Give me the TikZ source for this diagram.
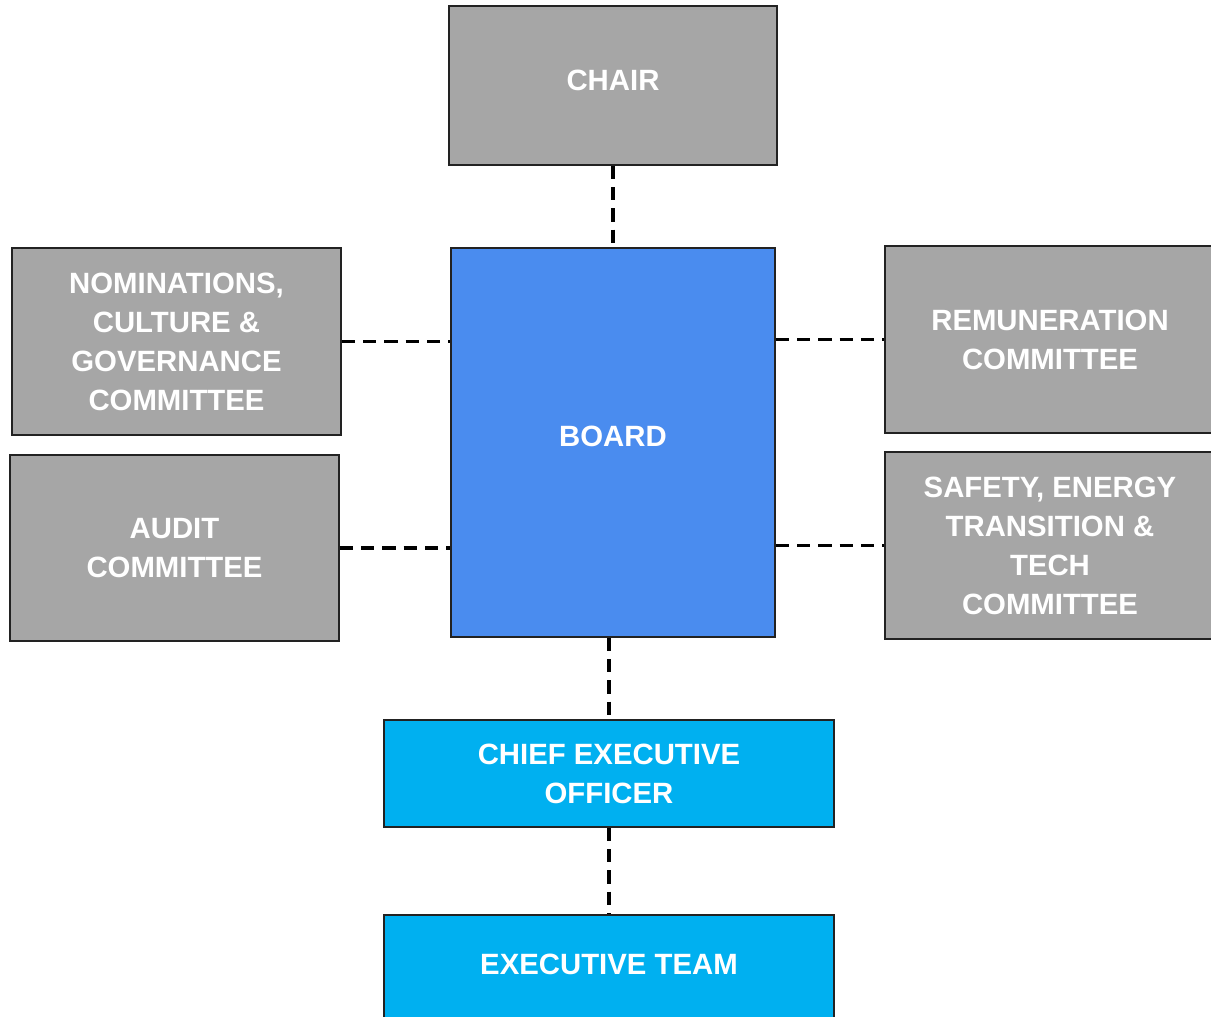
\documentclass[tikz,border=0pt]{standalone}
\usepackage{fontspec}
\setmainfont{Liberation Sans}
\usepackage{tikz}
\usetikzlibrary{positioning}

\definecolor{boxgrey}{HTML}{A6A6A6}
\definecolor{boardblue}{HTML}{4A8CEF}
\definecolor{execcyan}{HTML}{00B0F0}
\definecolor{edgedark}{HTML}{222222}

\tikzset{
	orgbox/.style={draw=edgedark, line width=1.1pt, align=center, text=white,
		font=\bfseries\fontsize{22}{29.25}\selectfont, inner sep=0pt},
	greybox/.style={orgbox, fill=boxgrey},
	boardbox/.style={orgbox, fill=boardblue},
	execbox/.style={orgbox, fill=execcyan},
	link/.style={draw=black, line width=2.6pt, dash pattern=on 10pt off 6pt}
}

\begin{document}
\begin{tikzpicture}[x=0.75pt,y=0.75pt,yscale=-1,xscale=1]
	\useasboundingbox (0,0) rectangle (1211,1017);
	
	% Chair and Board
	\node [greybox, minimum width=246pt, minimum height=119.25pt, text depth=7.5pt] (chair) at (613,85.5) {CHAIR};
	\node [boardbox, minimum width=243pt, minimum height=291.75pt, text depth=9pt] (board) at (613,442.5) {BOARD};
	% Committees, left
	\node [greybox, minimum width=246.75pt, minimum height=140.25pt] (nomcom) at (176.5,341.5) {NOMINATIONS,\\CULTURE \&\\GOVERNANCE\\COMMITTEE};
	\node [greybox, minimum width=246.75pt, minimum height=139.5pt] (auditcom) at (174.5,548) {AUDIT\\COMMITTEE};
	% Committees, right
	\node [greybox, minimum width=247.5pt, minimum height=140.25pt] (remcom) at (1050,339.5) {REMUNERATION\\COMMITTEE};
	\node [greybox, minimum width=247.5pt, minimum height=140.25pt] (safetycom) at (1050,545.5) {SAFETY, ENERGY\\TRANSITION \&\\TECH\\COMMITTEE};
	% Executive
	\node [execbox, minimum width=337.5pt, minimum height=80.25pt] (ceo) at (609,773.5) {CHIEF EXECUTIVE\\OFFICER};
	\node [execbox, minimum width=337.5pt, minimum height=93.75pt, text depth=20pt] (execteam) at (609,977.5) {EXECUTIVE TEAM};
	
	% Dashed links
	\draw [link] (chair.south) -- (board.north);
	\draw [link] (nomcom.east) -- (nomcom.east -| board.west);
	\draw [link] (auditcom.east) -- (auditcom.east -| board.west);
	\draw [link] (remcom.west -| board.east) -- (remcom.west);
	\draw [link] (safetycom.west -| board.east) -- (safetycom.west);
	\draw [link] (board.south -| ceo.north) -- (ceo.north);
	\draw [link] (ceo.south) -- (execteam.north);
\end{tikzpicture}
\end{document}
